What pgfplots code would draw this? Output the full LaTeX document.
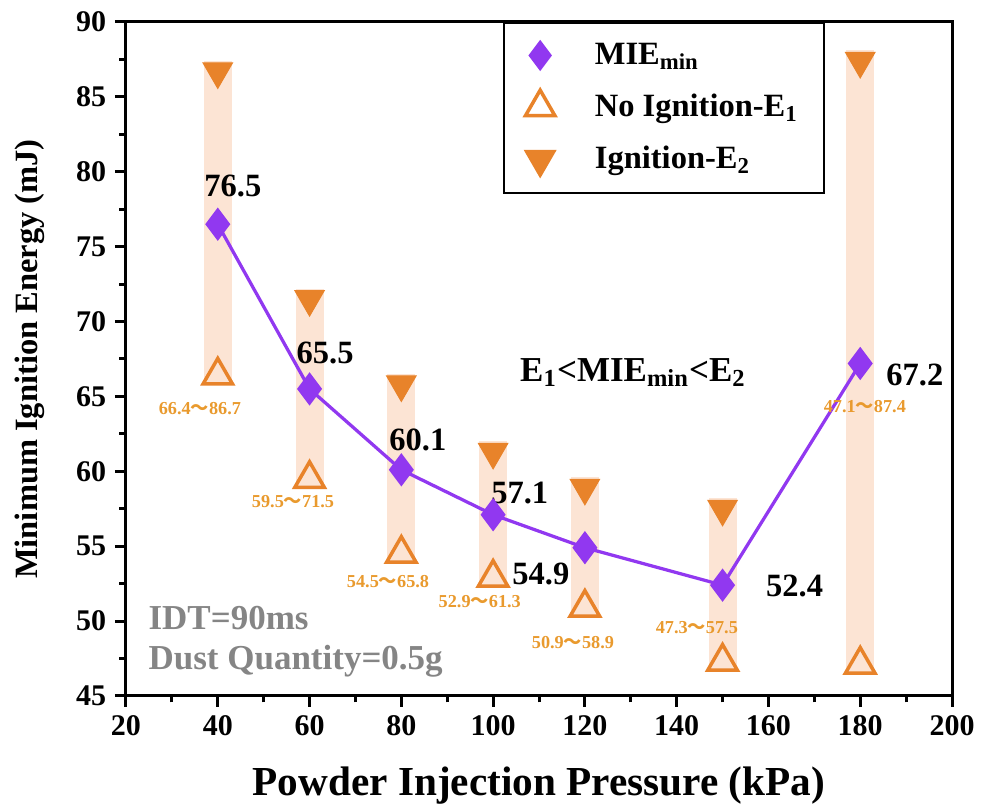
\documentclass[border=0pt]{standalone}
\usepackage{fontspec}
\setmainfont{Liberation Serif}
\newfontfamily\cjk{Noto Sans CJK SC}
\usepackage{pgfplots}
\usepackage{pgfplotstable}
\pgfplotsset{compat=1.18}
\definecolor{miepurple}{HTML}{9138F0}
\definecolor{ignorange}{HTML}{E8832A}
\definecolor{rangeorange}{HTML}{E99A2E}
\definecolor{barpeach}{HTML}{FCE4D4}
\definecolor{notegray}{HTML}{858585}

% pressure, no ignition E1, ignition E2, MIE_min
\pgfplotstableread{
x   e1    e2    mie
40  66.4  86.7  76.5
60  59.5  71.5  65.5
80  54.5  65.8  60.1
100 52.9  61.3  57.1
120 50.9  58.9  54.9
150 47.3  57.5  52.4
180 47.1  87.4  67.2
}\mietable

\newcommand{\rng}[2]{#1{\cjk ～}#2}

\begin{document}
\begin{tikzpicture}
\begin{axis}[
  scale only axis, width=330.4pt, height=269.6pt,
  xmin=20, xmax=200, ymin=45, ymax=90,
  xtick={20,40,...,200}, ytick={45,50,...,90},
  minor x tick num=1, minor y tick num=1,
  tick align=outside, tick pos=left,
  major tick length=4.4pt, minor tick length=2.6pt,
  axis line style={line width=1.2pt},
  every tick/.style={black, line width=1.2pt},
  /pgf/number format/assume math mode=true,
  ticklabel style={font=\bfseries\fontsize{12}{12}\selectfont},
  xlabel={Powder Injection Pressure (kPa)},
  ylabel={Minimum Ignition Energy (mJ)},
  xlabel style={font=\bfseries\fontsize{16.5}{16.5}\selectfont, at={(axis description cs:0.5,0)}, anchor=center, yshift=-36pt},
  ylabel style={font=\bfseries\fontsize{13}{13}\selectfont, at={(axis description cs:-0.1162,0.5)}, anchor=center},
  unbounded coords=jump,
  legend cell align=left,
  legend style={at={(axis cs:102.2,90)}, anchor=north west, draw=black, line width=0.8pt,
    font=\bfseries\fontsize{13}{14}\selectfont, row sep=6.4pt,
    inner xsep=8.5pt, inner ysep=6pt,
    /tikz/every odd column/.append style={column sep=14pt}},
  clip=false,
]
% range bars (E1 to E2)
\addplot[barpeach, line width=11.2pt, forget plot] coordinates {
  (40,65.8) (40,87.4) (40,nan)
  (60,58.9) (60,72.2) (60,nan)
  (80,53.9) (80,66.5) (80,nan)
  (100,52.3) (100,62.0) (100,nan)
  (120,50.3) (120,59.6) (120,nan)
  (150,46.7) (150,58.2) (150,nan)
  (180,46.5) (180,88.1)
};
\addlegendimage{only marks, mark=diamond*, mark size=5.6pt, color=miepurple}
\addlegendentry{MIE\textsubscript{min}}
\addlegendimage{only marks, mark=triangle, mark size=6.8pt, color=ignorange, mark options={line width=1.4pt, fill=white}}
\addlegendentry{No Ignition-E\textsubscript{1}}
\addlegendimage{only marks, mark=triangle*, mark size=6.8pt, color=ignorange, mark options={rotate=180}}
\addlegendentry{Ignition-E\textsubscript{2}}

\addplot[only marks, mark=triangle, mark size=6.8pt, ignorange, mark options={line width=1.4pt, fill=white}, forget plot] table[x=x, y=e1] {\mietable};
\addplot[only marks, mark=triangle*, mark size=6.8pt, ignorange, mark options={rotate=180}, forget plot] table[x=x, y=e2] {\mietable};
\addplot[miepurple, line width=1.3pt, mark=diamond*, mark size=5.6pt, forget plot] table[x=x, y=mie] {\mietable};

% value labels
\begin{scope}[every node/.style={font=\bfseries\fontsize{13}{13}\selectfont}]
\node at (axis cs:43.3,79.05) {76.5};
\node at (axis cs:63.4,67.9) {65.5};
\node at (axis cs:83.6,62.1) {60.1};
\node at (axis cs:105.8,58.55) {57.1};
\node at (axis cs:110.4,53.15) {54.9};
\node at (axis cs:165.7,52.35) {52.4};
\node at (axis cs:191.9,66.4) {67.2};
\end{scope}
% range labels
\begin{scope}[every node/.style={font=\bfseries\fontsize{7.3}{7.3}\selectfont, text=rangeorange}]
\node at (axis cs:36.1,64.2) {\rng{66.4}{86.7}};
\node at (axis cs:56.4,58.0) {\rng{59.5}{71.5}};
\node at (axis cs:77.1,52.65) {\rng{54.5}{65.8}};
\node at (axis cs:97.1,51.3) {\rng{52.9}{61.3}};
\node at (axis cs:117.4,48.6) {\rng{50.9}{58.9}};
\node at (axis cs:144.4,49.6) {\rng{47.3}{57.5}};
\node at (axis cs:181,64.3) {\rng{47.1}{87.4}};
\end{scope}
\node[font=\bfseries\fontsize{14}{14}\selectfont] at (axis cs:130.5,66.6) {E\textsubscript{1}<MIE\textsubscript{min}<E\textsubscript{2}};
\node[font=\bfseries\fontsize{14}{14}\selectfont, text=notegray, anchor=west] at (axis cs:23.0,50.2) {IDT=90ms};
\node[font=\bfseries\fontsize{14}{14}\selectfont, text=notegray, anchor=west] at (axis cs:23.0,47.3) {Dust Quantity=0.5g};
\end{axis}
\pgfresetboundingbox
\path (current axis.south west) ++(-50.4pt,-43.6pt) coordinate (bbA);
\path (current axis.north east) ++(14.4pt,8.8pt) coordinate (bbB);
\path[use as bounding box] (bbA) rectangle (bbB);
\end{tikzpicture}
\end{document}
